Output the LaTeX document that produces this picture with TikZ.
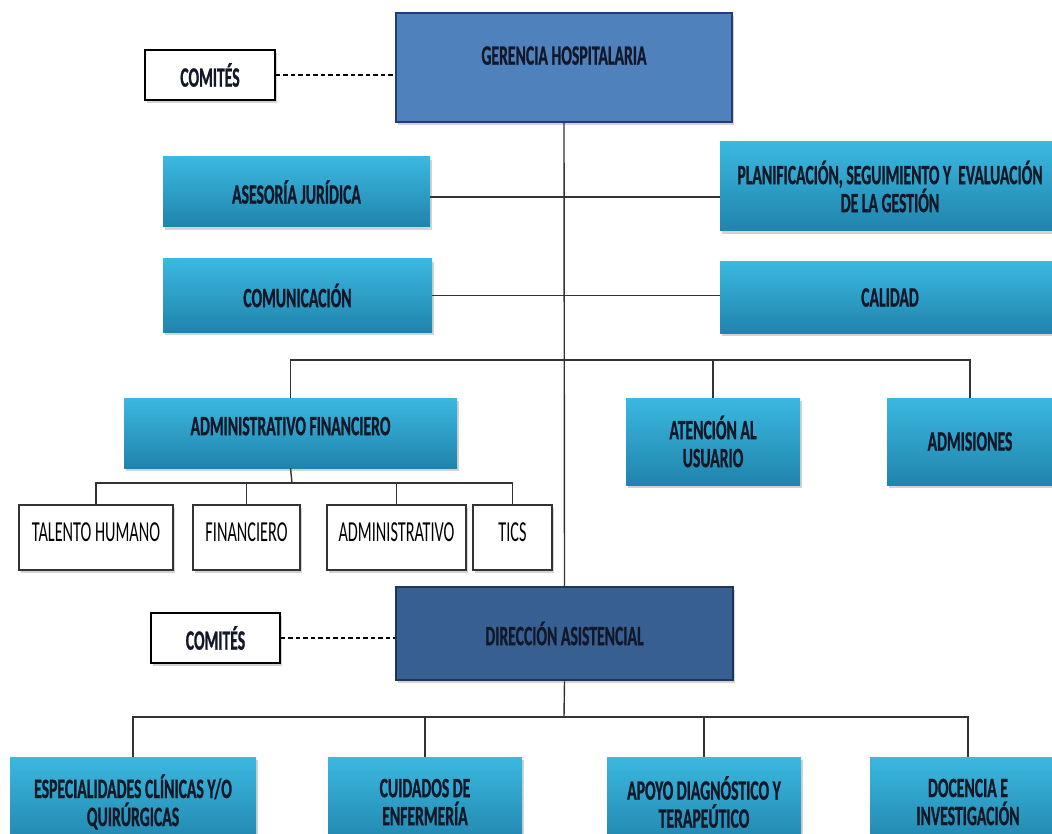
\documentclass[tikz,border=0pt]{standalone}
\usepackage{fontspec}
\setmainfont{Carlito}[FakeStretch=0.56, BoldFeatures={FakeBold=0.8}]
\usetikzlibrary{shadows}
\definecolor{gerblue}{HTML}{4F81BD}
\definecolor{gerline}{HTML}{1F3D7A}
\definecolor{dirblue}{HTML}{375F92}
\definecolor{dirline}{HTML}{1D355C}
\definecolor{cyantop}{HTML}{3BB8E0}
\definecolor{cyanbot}{HTML}{2084AC}
\definecolor{txtdark}{HTML}{121828}
\definecolor{linegray}{HTML}{333333}

\begin{document}
\begin{tikzpicture}[x=1pt,y=-1pt] % organigrama
\tikzstyle{myshadow} = [drop shadow={shadow xshift=2pt, shadow yshift=-3pt, opacity=0.35}] % sombra gris
\tikzstyle{mybold} = [inner sep=0pt, text=txtdark, align=center, font=\fontsize{28}{28}\selectfont\bfseries] % texto de las cajas de color
\tikzstyle{mycyan} = [mybold, myshadow, top color=cyantop, bottom color=cyanbot] % unidades
\tikzstyle{myger} = [mybold, myshadow, fill=gerblue, draw=gerline, line width=2.5pt] % gerencia
\tikzstyle{mydir} = [mybold, myshadow, fill=dirblue, draw=dirline, line width=2.5pt] % direccion
\tikzstyle{mycom} = [mybold, myshadow, fill=white, draw=black, line width=1.6pt] % comites
\tikzstyle{mywhite} = [inner sep=0pt, myshadow, fill=white, draw=linegray, line width=1.3pt, text=black, font=\fontsize{29}{30}\selectfont] % subunidades
\tikzstyle{myline} = [draw=linegray, line width=1.4pt] % lineas de mando
\tikzstyle{mydash} = [draw=black, line width=1.8pt, dash pattern=on 4.5pt off 3pt] % lineas de asesoria

\useasboundingbox (0,0) rectangle (1052,834);
\clip (0,0) rectangle (1052,834);

% nivel directivo
\node[myger, minimum width=336pt, minimum height=109pt, text depth=24pt] (ger) at (564,67.5) {GERENCIA HOSPITALARIA};
\node[mycom, minimum width=130pt, minimum height=50pt] (com1) at (210,75) {COMITÉS};

% nivel asesor
\node[mycyan, minimum width=267pt, minimum height=70pt] (ase) at (296.5,192) {ASESORÍA JURÍDICA};
\node[mycyan, minimum width=340pt, minimum height=89pt] (pla) at (890,186.5) {PLANIFICACIÓN, SEGUIMIENTO Y\ \ EVALUACIÓN\\DE LA GESTIÓN};
\node[mycyan, minimum width=269pt, minimum height=73pt] (com) at (297.5,295.5) {COMUNICACIÓN};
\node[mycyan, minimum width=340pt, minimum height=71pt] (cal) at (890,297.5) {CALIDAD};

% nivel de apoyo
\node[mycyan, minimum width=333pt, minimum height=70pt, text depth=14pt] (adm) at (290.5,433) {ADMINISTRATIVO FINANCIERO};
\node[mycyan, minimum width=174pt, minimum height=87pt] (ate) at (713,441.5) {ATENCIÓN AL\\USUARIO};
\node[mycyan, minimum width=166pt, minimum height=87pt] (adi) at (970,441.5) {ADMISIONES};

\node[mywhite, minimum width=154pt, minimum height=65pt, text depth=10pt] (tal) at (96,537.5) {TALENTO HUMANO};
\node[mywhite, minimum width=107pt, minimum height=65pt, text depth=10pt] (fin) at (246.5,537.5) {FINANCIERO};
\node[mywhite, minimum width=139pt, minimum height=65pt, text depth=10pt] (adt) at (396.5,537.5) {ADMINISTRATIVO};
\node[mywhite, minimum width=79pt, minimum height=65pt, text depth=10pt] (tic) at (512.5,537.5) {TICS};

% nivel asistencial
\node[mydir, minimum width=337pt, minimum height=93pt] (dir) at (564.5,633.5) {DIRECCIÓN ASISTENCIAL};
\node[mycom, minimum width=129pt, minimum height=50pt] (com2) at (215.5,638) {COMITÉS};

\node[mycyan, minimum width=246pt, minimum height=90pt] (esp) at (133,802) {ESPECIALIDADES CLÍNICAS Y/O\\QUIRÚRGICAS};
\node[mycyan, minimum width=194pt, minimum height=90pt] (cui) at (425,802) {CUIDADOS DE\\ENFERMERÍA};
\node[mycyan, minimum width=194pt, minimum height=90pt] (apo) at (704,802) {APOYO DIAGNÓSTICO Y\\TERAPEÚTICO};
\node[mycyan, minimum width=196pt, minimum height=90pt] (doc) at (968,802) {DOCENCIA E\\INVESTIGACIÓN};

% conexiones
\coordinate (bus1) at (564,360);
\coordinate (bus2) at (292,483);
\coordinate (bus3) at (564,717);

\draw[myline] (ger.south) -- (dir.north);
\draw[myline] ([yshift=-5pt]ase.east) -- ([yshift=-5pt]ase.east -| pla.west);
\draw[myline] (com.east) -- (com.east -| cal.west);
\draw[myline] (adm.north) |- (bus1) -| (adi.north);
\draw[myline] (bus1 -| ate.north) -- (ate.north);
\draw[myline] (adm.south) -- (bus2);
\draw[myline] (tal.north) |- (bus2) -| (tic.north);
\foreach \n in {fin,adt}
    \draw[myline] (\n.north) -- (\n.north |- bus2);
\draw[myline] (dir.south) -- (bus3);
\draw[myline] (esp.north) |- (bus3) -| (doc.north);
\foreach \n in {cui,apo}
    \draw[myline] (\n.north) -- (\n.north |- bus3);

\draw[mydash] (com1.east) -- (com1.east -| ger.west);
\draw[mydash] (com2.east) -- (com2.east -| dir.west);
\end{tikzpicture}
\end{document}
